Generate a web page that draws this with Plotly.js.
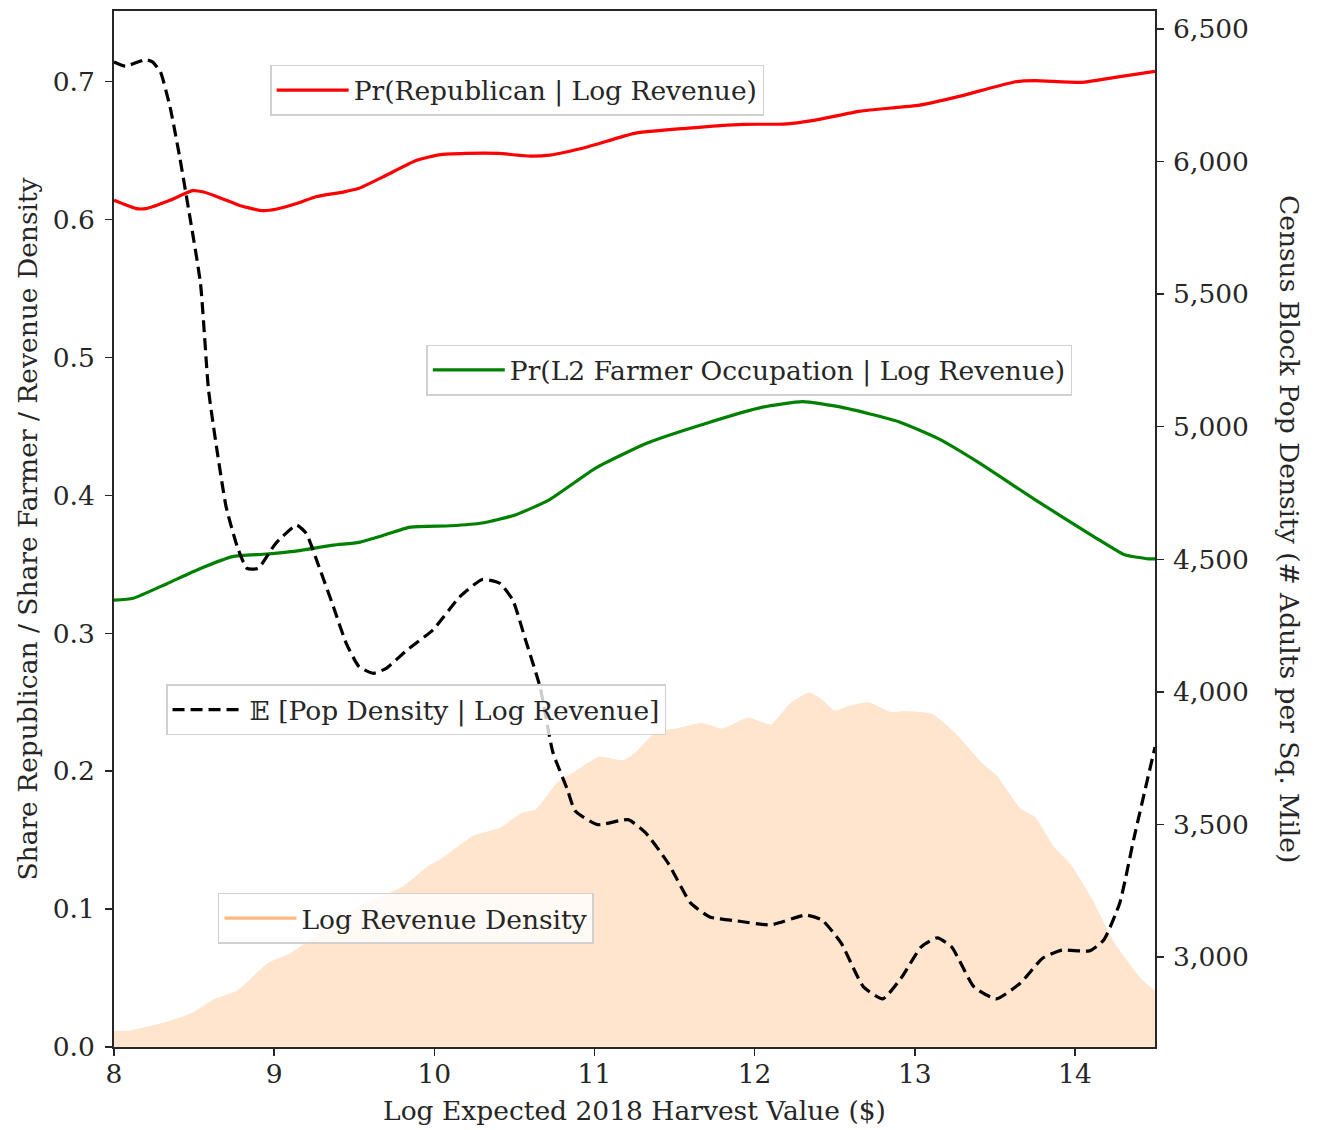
<!DOCTYPE html>
<html>
<head>
<meta charset="utf-8">
<script src="https://cdn.plot.ly/plotly-3.0.1.min.js"></script>
<style>html,body{margin:0;padding:0;background:#fff;}#chart{width:1322px;height:1130px;}</style>
</head>
<body>
<div id="chart"></div>
<script>
// Pr(Republican | Log Revenue)
const repX = [8.00,8.14,8.20,8.35,8.49,8.56,8.68,8.79,8.93,9.01,9.15,9.26,9.43,9.53,9.68,9.89,10.03,10.2,10.4,10.6,10.72,10.96,11.25,11.57,11.93,12.18,12.37,12.66,13.03,13.27,13.63,13.75,14.04,14.24,14.5];
const repY = [0.614,0.608,0.608,0.614,0.621,0.620,0.615,0.610,0.6065,0.6075,0.612,0.6166,0.620,0.6227,0.631,0.643,0.647,0.648,0.648,0.646,0.6468,0.6529,0.6626,0.6662,0.6691,0.6693,0.672,0.6787,0.683,0.6892,0.700,0.7008,0.6995,0.703,0.7075];

// Pr(L2 Farmer Occupation | Log Revenue)
const farmX = [8.0,8.12,8.33,8.54,8.74,8.95,9.16,9.37,9.53,9.68,9.85,10.1,10.3,10.51,10.72,11.01,11.33,11.69,12.05,12.30,12.54,12.90,13.15,13.39,13.75,14.12,14.31,14.46,14.5];
const farmY = [0.324,0.3254,0.336,0.347,0.3556,0.3575,0.360,0.364,0.366,0.371,0.377,0.378,0.380,0.386,0.397,0.420,0.438,0.452,0.464,0.468,0.464,0.4535,0.441,0.4245,0.397,0.370,0.357,0.354,0.354];

// E[Pop Density | Log Revenue] (right axis)
const popX = [8.00,8.07,8.20,8.24,8.29,8.35,8.41,8.47,8.54,8.59,8.64,8.70,8.77,8.83,8.90,9.01,9.14,9.20,9.28,9.37,9.45,9.53,9.62,9.70,9.83,9.99,10.16,10.30,10.41,10.49,10.57,10.66,10.74,10.83,10.88,11.02,11.21,11.32,11.46,11.60,11.72,11.89,12.10,12.32,12.42,12.54,12.68,12.80,12.92,13.04,13.14,13.23,13.37,13.51,13.66,13.80,13.92,14.09,14.18,14.28,14.37,14.5];
const popY = [6376,6360,6385,6376,6338,6206,6018,5805,5541,5140,4924,4698,4547,4466,4466,4560,4629,4598,4472,4321,4183,4095,4070,4089,4158,4233,4359,4424,4409,4346,4195,4019,3773,3633,3551,3499,3518,3468,3354,3204,3151,3136,3121,3158,3140,3053,2887,2842,2925,3038,3072,3038,2887,2842,2902,2996,3026,3023,3064,3204,3452,3792];

// Log Revenue Density
const densX = [8.00,8.10,8.35,8.49,8.63,8.77,8.96,9.10,9.24,9.41,9.60,9.80,9.96,10.05,10.24,10.41,10.55,10.63,10.77,10.88,11.03,11.18,11.25,11.39,11.51,11.67,11.80,11.96,12.10,12.22,12.34,12.42,12.50,12.58,12.71,12.85,12.94,13.11,13.25,13.42,13.51,13.66,13.75,13.87,13.97,14.11,14.25,14.42,14.5];
const densY = [0.0118,0.012,0.019,0.025,0.035,0.041,0.061,0.068,0.079,0.094,0.106,0.116,0.131,0.137,0.153,0.159,0.170,0.172,0.192,0.200,0.2105,0.208,0.213,0.229,0.231,0.235,0.231,0.239,0.234,0.249,0.257,0.252,0.244,0.247,0.250,0.243,0.2437,0.2415,0.228,0.206,0.197,0.173,0.167,0.145,0.133,0.1066,0.075,0.0486,0.041];

const xTicks = [8,9,10,11,12,13,14];
const leftTicks = [0.0,0.1,0.2,0.3,0.4,0.5,0.6,0.7];
const rightTicks = [3000,3500,4000,4500,5000,5500,6000,6500];

const labels = {
  rep: 'Pr(Republican | Log Revenue)',
  farm: 'Pr(L2 Farmer Occupation | Log Revenue)',
  pop: '\u{1D53C} [Pop Density | Log Revenue]',
  dens: 'Log Revenue Density',
  xTitle: 'Log Expected 2018 Harvest Value ($)',
  yTitle: 'Share Republican / Share Farmer / Revenue Density',
  y2Title: 'Census Block Pop Density (# Adults per Sq. Mile)'
};

const FONT = '"DejaVu Serif", "Liberation Serif", serif';
const TXT = '#262626';
const FS = 26.5;

const traces = [
  {x: densX, y: densY, type: 'scatter', mode: 'lines', fill: 'tozeroy',
   fillcolor: 'rgb(255,228,206)', line: {width: 0, color: 'rgba(0,0,0,0)', shape: 'spline', smoothing: 0.5},
   showlegend: false, hoverinfo: 'skip'},
  {x: [null], y: [null], type: 'scatter', mode: 'lines', name: labels.dens,
   line: {color: 'rgb(255,186,125)', width: 3.2}, legend: 'legend4'},
  {x: repX, y: repY, type: 'scatter', mode: 'lines', name: labels.rep,
   line: {color: '#ff0000', width: 3.2, shape: 'spline', smoothing: 0.5}, legend: 'legend'},
  {x: farmX, y: farmY, type: 'scatter', mode: 'lines', name: labels.farm,
   line: {color: '#008000', width: 3.2, shape: 'spline', smoothing: 0.5}, legend: 'legend2'},
  {x: popX, y: popY, type: 'scatter', mode: 'lines', name: labels.pop, yaxis: 'y2',
   line: {color: '#000000', width: 3.2, dash: '12px,6px', shape: 'spline', smoothing: 0.5}, legend: 'legend3'}
];

const legendBase = {
  bgcolor: 'rgba(255,255,255,0.8)', bordercolor: '#d0d0d0', borderwidth: 1.5,
  font: {family: FONT, size: FS, color: TXT}, xanchor: 'left', yanchor: 'top',
  itemwidth: 72
};

const layout = {
  width: 1322, height: 1130,
  paper_bgcolor: '#ffffff', plot_bgcolor: '#ffffff',
  margin: {l: 114, r: 167, t: 11, b: 83},
  font: {family: FONT, size: FS, color: TXT},
  xaxis: {
    range: [8, 14.5], tickvals: xTicks, ticktext: xTicks.map(String),
    showline: true, linecolor: TXT, linewidth: 1.8, mirror: true,
    ticks: 'outside', ticklen: 7, tickwidth: 1.5, tickcolor: TXT,
    ticklabelstandoff: -5,
    showgrid: false, zeroline: false,
    tickfont: {family: FONT, size: FS, color: TXT},
    title: {text: labels.xTitle, font: {family: FONT, size: FS, color: TXT}, standoff: 14}
  },
  yaxis: {
    range: [0, 0.7513], tickvals: leftTicks, ticktext: leftTicks.map(v => v.toFixed(1)),
    showline: true, linecolor: TXT, linewidth: 1.8,
    ticks: 'outside', ticklen: 7, tickwidth: 1.5, tickcolor: TXT,
    ticklabelstandoff: 5,
    showgrid: false, zeroline: false,
    tickfont: {family: FONT, size: FS, color: TXT},
    title: {text: labels.yTitle, font: {family: FONT, size: FS, color: TXT}, standoff: 7}
  },
  yaxis2: {
    overlaying: 'y', side: 'right', range: [2660.5, 6568],
    tickvals: rightTicks, ticktext: rightTicks.map(v => v.toLocaleString('en-US')),
    showline: true, linecolor: TXT, linewidth: 1.8,
    ticks: 'outside', ticklen: 7, tickwidth: 1.5, tickcolor: TXT,
    ticklabelstandoff: 4,
    showgrid: false, zeroline: false,
    tickfont: {family: FONT, size: FS, color: TXT}
  },
  legend: Object.assign({}, legendBase, {x: 0.150, y: 0.948}),
  legend2: Object.assign({}, legendBase, {x: 0.300, y: 0.678}),
  legend3: Object.assign({}, legendBase, {x: 0.050, y: 0.350}),
  legend4: Object.assign({}, legendBase, {x: 0.0999, y: 0.1487}),
  annotations: [{
    text: labels.y2Title, xref: 'paper', yref: 'paper', x: 1.1297, y: 0.5,
    xanchor: 'center', yanchor: 'middle', textangle: 90, showarrow: false,
    font: {family: FONT, size: FS, color: TXT}
  }]
};

Plotly.newPlot('chart', traces, layout, {displayModeBar: false, staticPlot: true});
</script>
</body>
</html>
